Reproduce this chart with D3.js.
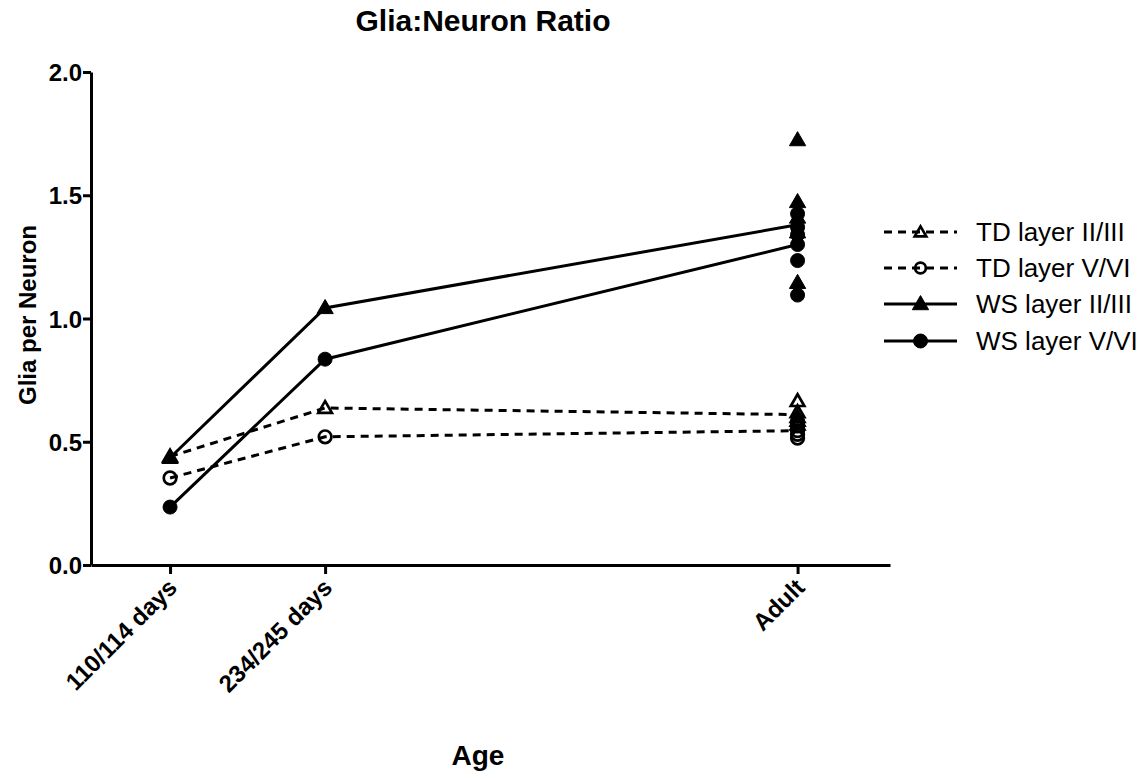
<!DOCTYPE html>
<html>
<head>
<meta charset="utf-8">
<script src="https://cdn.jsdelivr.net/npm/d3@7"></script>
<style>
  html, body { margin: 0; padding: 0; background: #fff; }
  svg { display: block; font-family: Arial, "Liberation Sans", sans-serif; }
</style>
</head>
<body>
<svg id="chart" width="1144" height="779"></svg>
<script>
// Age groups and their nominal position on the age axis (days)
const ageLabels = ["110/114 days", "234/245 days", "Adult"];
const ageDays = [112, 239.5, 628];

// Group means per age group
const tdLayer23Mean = [0.44, 0.637, 0.61];
const tdLayer56Mean = [0.353, 0.52, 0.545];
const wsLayer23Mean = [0.435, 1.043, 1.38];
const wsLayer56Mean = [0.235, 0.835, 1.30];

// Individual adult cases
const tdLayer23Adult = [0.665, 0.62, 0.60, 0.585, 0.57];
const tdLayer56Adult = [0.58, 0.565, 0.545, 0.53, 0.515];
const wsLayer23Adult = [1.724, 1.473, 1.41, 1.35, 1.145];
const wsLayer56Adult = [1.425, 1.37, 1.34, 1.30, 1.235, 1.095];

const yTicks = [0, 0.5, 1.0, 1.5, 2.0];

const series = [
  { name: "TD layer II/III", mean: tdLayer23Mean, adult: tdLayer23Adult, dashed: true,  shape: "triangle", filled: false },
  { name: "TD layer V/VI",   mean: tdLayer56Mean, adult: tdLayer56Adult, dashed: true,  shape: "circle",   filled: false },
  { name: "WS layer II/III", mean: wsLayer23Mean, adult: wsLayer23Adult, dashed: false, shape: "triangle", filled: true },
  { name: "WS layer V/VI",   mean: wsLayer56Mean, adult: wsLayer56Adult, dashed: false, shape: "circle",   filled: true }
];

const svg = d3.select("#chart");

const x = d3.scaleLinear().domain([47, 704]).range([91, 890]);
const y = d3.scaleLinear().domain([0, 2]).range([565, 72]);

// Y axis
const yAxis = svg.append("g")
  .attr("transform", "translate(91,0)")
  .call(d3.axisLeft(y).tickValues(yTicks).tickFormat(d3.format(".1f")).tickSize(8).tickSizeOuter(0));
yAxis.select(".domain").attr("stroke", "#000").attr("stroke-width", 3);
yAxis.selectAll(".tick line").attr("stroke", "#000").attr("stroke-width", 3);
yAxis.selectAll(".tick text")
  .attr("x", -9).attr("dy", "0.36em")
  .attr("font-size", 24).attr("font-weight", "bold").attr("fill", "#000")
  .attr("font-family", "Arial, 'Liberation Sans', sans-serif");

// X axis
const xAxis = svg.append("g")
  .attr("transform", "translate(0,565)")
  .call(d3.axisBottom(x).tickValues(ageDays).tickFormat((d, i) => ageLabels[i]).tickSize(9).tickSizeOuter(0));
xAxis.select(".domain").attr("stroke", "#000").attr("stroke-width", 3);
xAxis.selectAll(".tick text")
  .attr("text-anchor", "end")
  .attr("x", 0).attr("y", 0).attr("dy", 0)
  .attr("transform", "translate(8,24) rotate(-45)")
  .attr("font-size", 24).attr("font-weight", "bold").attr("fill", "#000")
  .attr("font-family", "Arial, 'Liberation Sans', sans-serif");
xAxis.selectAll(".tick line").attr("stroke", "#000").attr("stroke-width", 3);

// Titles
svg.append("text").attr("x", 483).attr("y", 31).attr("text-anchor", "middle")
  .attr("font-size", 30).attr("font-weight", "bold").text("Glia:Neuron Ratio");
svg.append("text").attr("transform", "translate(36,315) rotate(-90)").attr("text-anchor", "middle")
  .attr("font-size", 24).attr("font-weight", "bold").text("Glia per Neuron");
svg.append("text").attr("x", 478).attr("y", 765).attr("text-anchor", "middle")
  .attr("font-size", 28).attr("font-weight", "bold").text("Age");

// Marker drawing helper
const triSym = d3.symbol().type(d3.symbolTriangle);
function marker(g, s, cx, cy, scale) {
  const k = scale || 1;
  if (s.shape === "triangle") {
    const size = s.filled ? 115 : 80;
    g.append("path")
      .attr("d", triSym.size(size * k * k)())
      .attr("transform", `translate(${cx},${cy + 1})`)
      .attr("fill", s.filled ? "#000" : "none")
      .attr("stroke", "#000").attr("stroke-width", s.filled ? 1 : 2.7)
      .attr("stroke-linejoin", "miter");
  } else {
    g.append("circle")
      .attr("cx", cx).attr("cy", cy)
      .attr("r", (s.filled ? 7 : 6.3) * k)
      .attr("fill", s.filled ? "#000" : "none")
      .attr("stroke", "#000").attr("stroke-width", s.filled ? 1 : 2.7);
  }
}

const line = d3.line().x((d, i) => x(ageDays[i])).y(d => y(d));
const plot = svg.append("g");

series.forEach(s => {
  plot.append("path")
    .datum(s.mean)
    .attr("d", line)
    .attr("fill", "none")
    .attr("stroke", "#000")
    .attr("stroke-width", 3)
    .attr("stroke-dasharray", s.dashed ? "8,6" : null);
});

series.forEach(s => {
  const g = plot.append("g");
  // means at the two juvenile ages
  s.mean.slice(0, 2).forEach((v, i) => marker(g, s, x(ageDays[i]), y(v)));
  // individual adult cases
  s.adult.forEach(v => marker(g, s, x(ageDays[2]), y(v)));
});

// Legend
const legendRows = [232, 268, 304, 341];
series.forEach((s, i) => {
  const g = svg.append("g");
  const ly = legendRows[i];
  g.append("line").attr("x1", 884).attr("x2", 957).attr("y1", ly).attr("y2", ly)
    .attr("stroke", "#000").attr("stroke-width", 3)
    .attr("stroke-dasharray", s.dashed ? "8,6" : null);
  marker(g, s, 920.5, ly, s.filled ? 1 : 0.85);
  g.append("text").attr("x", 976).attr("y", ly + 9)
    .attr("font-size", 26).attr("fill", "#000").text(s.name);
});
</script>
</body>
</html>
